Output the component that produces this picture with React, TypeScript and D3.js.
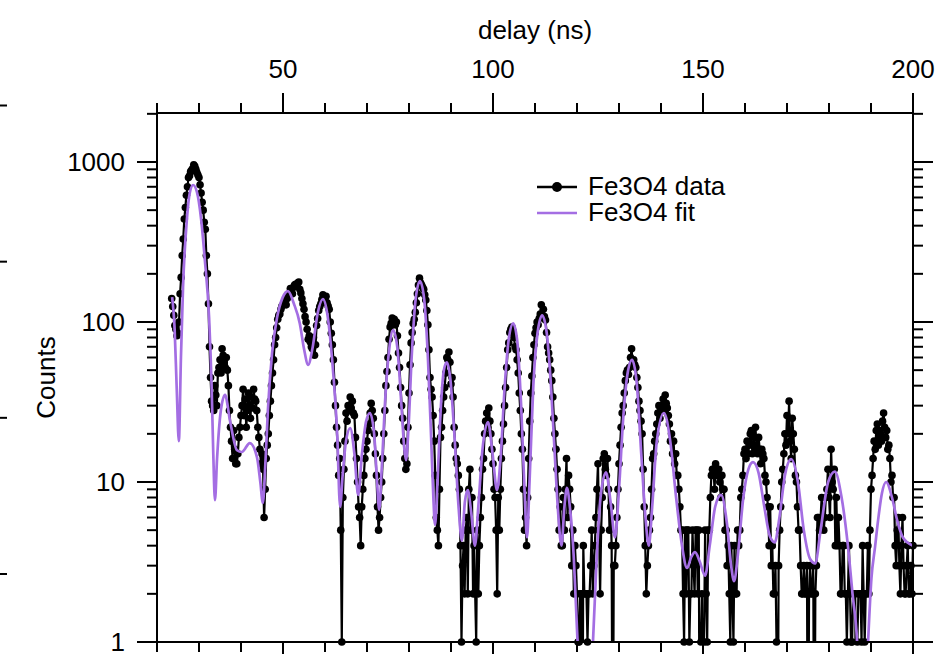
import React from 'react';
import * as d3 from 'd3';

// photon counts per 0.25 ns bin, starting at 23.5 ns
const countStart = 23.5;
const countStep = 0.25;
const counts = [
  140,125, 110,95, 90,82, 85,100, 150,190, 260,330, 440,520, 620,700, 800,820, 870,890,
  910,960, 940,900, 860,830, 800,720, 640,560, 500,420, 380,260, 200,130, 70,45, 32,30,
  28,40, 35,30, 48,52, 58,48, 68,62, 56,52, 60,50, 40,28, 22,18, 14,21,
  16,13, 13,15, 19,22, 26,30, 38,26, 33,22, 28,36, 30,25, 34,29, 38,33,
  32,28, 22,19, 16,13, 15,12, 6,9, 14,17, 20,26, 32,40, 48,58, 72,80,
  92,104, 110,112, 120,126, 128,131, 135,128, 140,146, 150,162, 158,150, 165,170, 172,168,
  175,178, 160,152, 140,130, 120,108, 100,90, 78,82, 75,70, 68,80, 62,72, 95,105,
  118,125, 130,138, 148,135, 140,145, 132,126, 120,100, 85,72, 58,42, 30,22, 17,11,
  14,5, 1,8, 12,18, 27,24, 30,28, 34,29, 32,27, 26,19, 14,10, 7,6,
  4,7, 9,11, 14,16, 18,21, 23,27, 31,28, 25,20, 15,11, 7,5, 6,8,
  10,14, 20,28, 40,49, 60,78, 93,98, 106,100, 104,96, 100,82, 64,52, 39,30,
  25,18, 14,12, 13,22, 36,54, 74,86, 98,104, 115,132, 150,170, 188,176, 170,165,
  160,148, 137,118, 96,67, 45,38, 34,26, 18,11, 6,5, 4,9, 19,22, 28,34,
  39,48, 60,58, 65,56, 41,45, 34,22, 17,14, 13,11, 9,4, 1,3, 4,2,
  5,6, 2,9, 12,5, 8,2, 4,2, 1,5, 2,4, 6,8, 12,14, 20,24,
  27,22, 29,24, 20,16, 13,9, 8,5, 2,8, 5,9, 14,18, 23,30, 39,52,
  67,74, 86,90, 93,88, 80,70, 67,58, 48,36, 28,20, 16,9, 5,6, 4,8,
  14,24, 36,46, 60,72, 85,92, 100,96, 105,112, 128,110, 120,108, 103,86, 70,64,
  58,50, 43,34, 25,20, 16,12, 9,5, 7,4, 4,8, 5,9, 14,6, 11,9,
  7,3, 5,2, 4,3, 2,1, 1,2, 2,0, 4,2, 2,2, 1,2, 2,3,
  5,2, 3,4, 6,9, 13,5, 2,5, 8,14, 15,12, 11,14, 9,5, 7,4,
  0,3, 3,4, 6,9, 13,17, 22,27, 30,36, 43,48, 50,47, 52,60, 68,55,
  58,54, 52,45, 39,32, 28,24, 20,12, 7,4, 2,3, 4,5, 6,9, 14,15,
  18,20, 23,27, 30,25, 29,30, 33,28, 35,31, 29,26, 23,18, 20,15, 18,13,
  15,11, 11,9, 7,5, 5,2, 1,5, 2,5, 5,1, 2,2, 5,3, 2,5,
  5,2, 5,0, 1,2, 0,1, 5,2, 1,5, 5,8, 11,12, 12,9, 13,11,
  11,12, 10,8, 11,9, 9,5, 5,3, 4,2, 1,4, 2,1, 4,2, 2,5,
  4,5, 8,9, 11,15, 16,14, 18,15, 17,20, 21,15, 17,19, 22,16, 15,19,
  16,13, 16,15, 14,11, 10,8, 7,4, 7,3, 4,2, 2,3, 1,0, 3,5,
  7,10, 12,15, 20,17, 26,20, 32,18, 14,25, 20,16, 11,10, 7,5, 5,3,
  2,2, 3,2, 2,3, 0,2, 3,2, 2,3, 0,2, 3,6, 6,5, 6,8,
  6,5, 6,8, 9,12, 8,6, 16,10, 9,12, 4,8, 4,6, 4,2, 2,4,
  4,2, 2,1, 2,4, 2,1, 1,2, 2,2, 0,1, 2,2, 2,1, 4,2,
  1,2, 2,4, 2,5, 9,11, 14,18, 16,21, 23,17, 21,20, 18,24, 27,22,
  19,21, 16,17, 14,10, 11,8, 8,4, 3,5, 6,3, 2,4, 6,3, 2,2,
  3,4, 2,2, 3,2, 4,
];

// fit curve, sampled at its key points
const fitTimes = [
  23.6, 24.2, 24.7, 25.2, 25.7, 26.2, 27.1, 27.8, 28.6, 29.5, 30.5, 31.4, 32.4, 33.0, 33.4, 33.8, 34.3, 35.2, 36.2, 37.4,
  39.05, 40.2, 42.1, 43.8, 44.6, 45.2, 45.8, 46.4, 47.4, 48.6, 49.9, 51.2, 52.6, 54.0, 55.0, 56.0, 57.0, 58.3, 59.5, 60.6,
  61.7, 62.9, 63.6, 64.2, 65.0, 66.0, 67.0, 67.9, 68.8, 69.8, 70.7, 71.7, 72.4, 72.9, 73.5, 74.4, 75.3, 76.2, 77.2, 78.2,
  78.9, 79.3, 79.8, 80.7, 81.6, 82.6, 83.6, 84.5, 85.3, 85.8, 86.2, 86.7, 87.6, 88.3, 89.0, 89.8, 90.8, 91.8, 92.6, 93.3,
  94.0, 94.8, 95.7, 96.5, 97.5, 98.8, 99.9, 100.95, 101.8, 102.8, 103.8, 104.8, 105.8, 106.7, 107.5, 108.1, 108.7, 109.6, 110.6, 111.7,
  112.8, 113.8, 114.7, 115.5, 116.3, 117.0, 117.6, 118.3, 119.2, 120.0, 120.8, 122.0, 123.0, 123.8, 124.6, 125.6, 126.9, 128.0, 129.05, 130.0,
  131.0, 132.0, 133.1, 134.2, 135.3, 136.3, 137.1, 137.9, 139.0, 140.7, 142.2, 143.6, 145.0, 146.2, 147.2, 148.1, 149.2, 150.5, 151.6, 152.9,
  154.3, 155.7, 156.7, 157.4, 158.3, 159.6, 160.8, 161.9, 163.2, 164.6, 165.9, 167.1, 168.2, 169.5, 171.0, 172.6, 174.0, 175.5, 176.7, 178.0,
  179.8, 181.4, 183.0, 184.5, 185.6, 186.7, 187.5, 188.4, 189.3, 190.1, 190.95, 191.7, 192.6, 193.6, 195.0, 196.2, 197.6, 200.0,
];
const fitValues = [
  143, 90, 38, 18, 60, 165, 434, 640, 718, 650, 440, 243, 107, 40, 15, 7.7, 14, 28, 35, 24,
  15.8, 15.4, 17.5, 14.3, 10, 7.4, 13, 28, 64, 107, 142, 156, 130, 98, 68, 54, 68, 115, 139, 110,
  58, 20, 7, 11, 18, 21.7, 15, 8.3, 15, 24, 27, 20, 10, 6.7, 12, 35, 68, 89, 70, 30,
  16, 13.7, 20, 65, 140, 180, 140, 60, 18, 8, 5.4, 9, 30, 50, 56, 45, 20, 7, 4.3, 7.5,
  8.9, 6.5, 4.0, 7, 16, 23.7, 15, 8.9, 14, 40, 80, 98, 75, 30, 9, 4.5, 10, 40, 85, 110,
  85, 40, 15, 6.5, 4, 7, 9.2, 7, 3.5, 1.2, 0.45, 0.2, 0.5, 1.0, 3, 8, 11.5, 7.5, 4.5, 9,
  25, 47, 58, 42, 15, 6, 4.0, 7, 18, 27, 18, 8, 4, 2.9, 3.4, 3.65, 3.2, 2.6, 4, 7,
  8.3, 5.5, 3, 2.4, 3.5, 8, 12, 13.3, 11.5, 7, 4.6, 4.2, 6, 11, 13.9, 10, 5, 3.3, 3.1, 5,
  10, 11.6, 8, 4, 2, 1.0, 0.3, 0.3, 1.0, 2.5, 3.9, 5.8, 8.5, 10, 8, 5.8, 4.5, 4,
];

const xMajorLabels = [50, 100, 150, 200];
const yMajorLabels = [1, 10, 100, 1000];
const legendLabels = ['Fe3O4 data', 'Fe3O4 fit'];
const xTitle = 'delay (ns)';
const yTitle = 'Counts';

const W = 949;
const H = 654;
const FONT = '"Liberation Sans", Arial, Helvetica, sans-serif';
const FIT_COLOR = '#a46ee3';

export default function App() {
  const left = 157, right = 913, top = 113, bottom = 642;
  const x = d3.scaleLinear().domain([20, 200]).range([left, right]);
  const y = d3.scaleLog().domain([1, 2024]).range([bottom, top]);

  const dataPts = counts.map((c, i) => ({ t: countStart + i * countStep, c: c > 0 ? c : 0.05 }));
  const fitPts = fitTimes.map((t, i) => ({ t, v: fitValues[i] }));

  const dataLine = d3.line<any>().x(d => x(d.t)).y(d => y(d.c))(dataPts) || '';
  const fitLine = d3.line<any>().x(d => x(d.t)).y(d => y(d.v)).curve(d3.curveMonotoneX)(fitPts) || '';

  const xTicks = d3.range(20, 201, 10);
  const yTicks = y.ticks().filter(v => v <= 2024);
  const isMajorY = (v: number) => Math.abs(Math.log10(v) - Math.round(Math.log10(v))) < 1e-9;

  // neighbouring panel's axis ticks at the far left edge
  const edge = d3.scaleLinear().domain([0, 3]).range([105.5, 574]);
  const edgeTicks = [0, 1, 2, 3];

  const sw = 2;
  return (
    <svg width={W} height={H} style={{ position: 'absolute', left: 0, top: 0, background: '#fff' }}
      fontFamily={FONT}>
      <defs>
        <clipPath id="plotClip"><rect x={left} y={top} width={right - left} height={bottom - top} /></clipPath>
        <clipPath id="markClip"><rect x={left} y={top - 6} width={right - left + 6} height={bottom - top + 12} /></clipPath>
      </defs>
      <rect x={0} y={0} width={W} height={H} fill="#fff" />

      {edgeTicks.map(v => (
        <line key={'e' + v} x1={0} x2={7} y1={edge(v)} y2={edge(v)} stroke="#000" strokeWidth={sw} />
      ))}

      {/* data */}
      <g clipPath="url(#plotClip)">
        <path d={dataLine} fill="none" stroke="#000" strokeWidth={2.2} strokeLinejoin="round" />
      </g>
      <g clipPath="url(#markClip)">
        {dataPts.map((d, i) => (
          <circle key={i} cx={x(d.t)} cy={y(d.c)} r={3.8} fill="#000" />
        ))}
      </g>
      <g clipPath="url(#plotClip)">
        <path d={fitLine} fill="none" stroke={FIT_COLOR} strokeWidth={2.7} strokeLinejoin="round" />
      </g>

      {/* frame / axes */}
      <line x1={left} x2={left} y1={top} y2={bottom} stroke="#000" strokeWidth={sw} />
      <line x1={right} x2={right} y1={top} y2={bottom} stroke="#000" strokeWidth={sw} />
      <line x1={left} x2={right} y1={top} y2={top} stroke="#000" strokeWidth={sw} />
      <line x1={left} x2={right} y1={bottom} y2={bottom} stroke="#000" strokeWidth={sw} />

      {xTicks.map(v => {
        const major = v % 50 === 0;
        const len = major ? 20 : 10;
        return (
          <g key={'x' + v}>
            <line x1={x(v)} x2={x(v)} y1={top} y2={top - len} stroke="#000" strokeWidth={sw} />
            <line x1={x(v)} x2={x(v)} y1={bottom} y2={bottom + len} stroke="#000" strokeWidth={sw} />
          </g>
        );
      })}
      {xMajorLabels.map(v => (
        <text key={'xl' + v} x={x(v)} y={78} fontSize={26} textAnchor="middle" fill="#000">{v}</text>
      ))}

      {yTicks.map(v => {
        const len = isMajorY(v) ? 20 : 10;
        return (
          <g key={'y' + v}>
            <line x1={left} x2={left - len} y1={y(v)} y2={y(v)} stroke="#000" strokeWidth={sw} />
            <line x1={right} x2={right + len} y1={y(v)} y2={y(v)} stroke="#000" strokeWidth={sw} />
          </g>
        );
      })}
      {yMajorLabels.map(v => (
        <text key={'yl' + v} x={125} y={y(v) + 9} fontSize={26} textAnchor="end" fill="#000">{v}</text>
      ))}

      <text x={(left + right) / 2} y={39} fontSize={26} textAnchor="middle" fill="#000">{xTitle}</text>
      <text transform={`translate(55,${(top + bottom) / 2}) rotate(-90)`} fontSize={26} textAnchor="middle" fill="#000">{yTitle}</text>

      {/* legend */}
      <line x1={537} x2={577} y1={187} y2={187} stroke="#000" strokeWidth={2.5} />
      <circle cx={557} cy={187} r={5} fill="#000" />
      <line x1={537} x2={577} y1={213} y2={213} stroke={FIT_COLOR} strokeWidth={2.7} />
      <text x={588} y={195} fontSize={26} fill="#000">{legendLabels[0]}</text>
      <text x={588} y={221} fontSize={26} fill="#000">{legendLabels[1]}</text>
    </svg>
  );
}
